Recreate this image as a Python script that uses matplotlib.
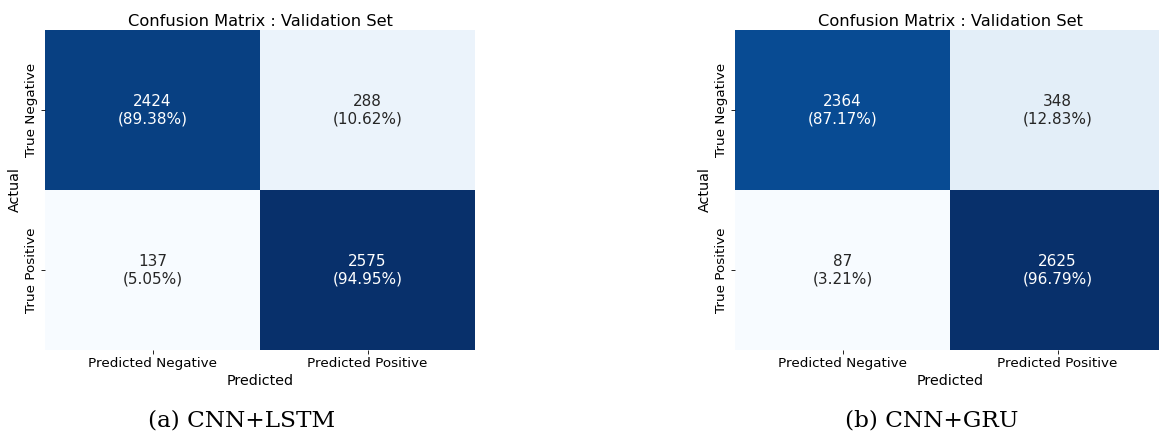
import numpy as np
import matplotlib.pyplot as plt
import seaborn as sns

# confusion matrix counts (rows = actual, cols = predicted)
lstm_counts = [[2424, 288], [137, 2575]]
gru_counts = [[2364, 348], [87, 2625]]
model_names = ["(a) CNN+LSTM", "(b) CNN+GRU"]
row_labels = ["True Negative", "True Positive"]
col_labels = ["Predicted Negative", "Predicted Positive"]


def make_annotations(cm):
    cm = np.array(cm)
    pct = cm / cm.sum(axis=1, keepdims=True) * 100
    return np.array([[f"{cm[i, j]}\n({pct[i, j]:.2f}%)" for j in range(2)] for i in range(2)])


def draw_matrix(ax, cm):
    sns.heatmap(np.array(cm), annot=make_annotations(cm), fmt="", cmap="Blues",
                cbar=False, ax=ax, xticklabels=col_labels, yticklabels=row_labels,
                annot_kws={"fontsize": 11})
    ax.set_title("Confusion Matrix : Validation Set", fontsize=11.7, pad=3)
    ax.set_xlabel("Predicted", fontsize=10.3, labelpad=3)
    ax.set_ylabel("Actual", fontsize=10.3, labelpad=2)
    ax.tick_params(axis="both", labelsize=9.7, length=3, width=0.6, pad=2)
    plt.setp(ax.get_yticklabels(), rotation=90, va="center")


fig = plt.figure(figsize=(11.59, 4.34), dpi=100)
W, H = 1159, 434
ax1 = fig.add_axes([45 / W, 1 - 350 / H, 430 / W, 320 / H])
ax2 = fig.add_axes([735 / W, 1 - 350 / H, 430 / W, 320 / H])

draw_matrix(ax1, lstm_counts)
draw_matrix(ax2, gru_counts)

# sub-figure captions
for xc, name in zip([242, 932], model_names):
    fig.text(xc / W, 1 - 421 / H, name, ha="center", va="center",
             fontsize=16.7, family="DejaVu Serif")

fig.savefig("out.png", dpi=100)
